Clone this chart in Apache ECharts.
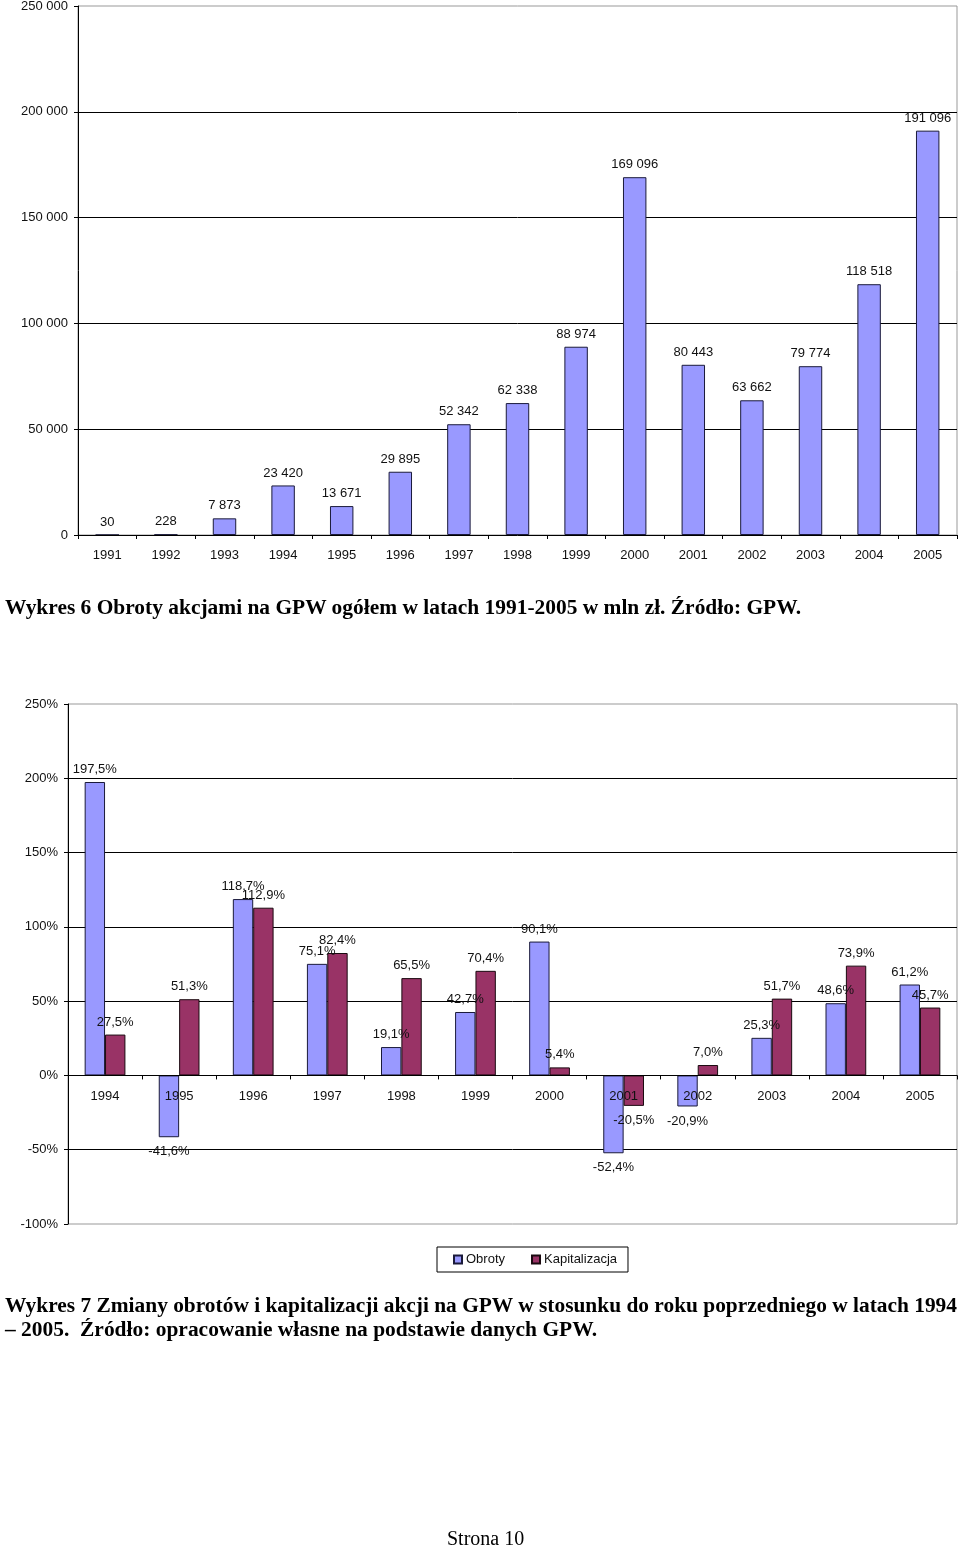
<!DOCTYPE html>
<html>
<head>
<meta charset="utf-8">
<script src="https://cdn.jsdelivr.net/npm/echarts@6/dist/echarts.min.js"></script>
<style>
  html, body { margin: 0; padding: 0; background: #fff; }
  #page { position: relative; width: 960px; height: 1547px; overflow: hidden; }
  #chart { position: absolute; left: 0; top: 0; width: 960px; height: 1547px; }
  .cap { position: absolute; font-family: "Liberation Serif", "Times New Roman", serif; font-weight: bold; font-size: 20px; color: #000; white-space: nowrap; transform-origin: 0 0; line-height: 1; }
  .foot { position: absolute; font-family: "Liberation Serif", "Times New Roman", serif; font-size: 20px; color: #000; white-space: nowrap; line-height: 1; }
</style>
</head>
<body>
<div id="page">
  <div id="chart"></div>
  <div class="cap" id="cap1" data-w="796" style="left:5px; top:597px;">Wykres 6 Obroty akcjami na GPW ogółem w latach 1991-2005 w mln zł. Źródło: GPW.</div>
  <div class="cap" id="cap2" data-w="952" style="left:5px; top:1295px;">Wykres 7 Zmiany obrotów i kapitalizacji akcji na GPW w stosunku do roku poprzedniego w latach 1994</div>
  <div class="cap" id="cap3" data-w="592" style="left:5px; top:1319px;">– 2005.&nbsp; Źródło: opracowanie własne na podstawie danych GPW.</div>
  <div class="foot" style="left:447px; top:1528px;">Strona 10</div>
</div>
<script>
// ---- Chart 1 data ----
const years1 = ['1991','1992','1993','1994','1995','1996','1997','1998','1999','2000','2001','2002','2003','2004','2005'];
const obrotyMln = [30, 228, 7873, 23420, 13671, 29895, 52342, 62338, 88974, 169096, 80443, 63662, 79774, 118518, 191096];

// ---- Chart 2 data ----
const years2 = ['1994','1995','1996','1997','1998','1999','2000','2001','2002','2003','2004','2005'];
const obrotyZmiana = [197.5, -41.6, 118.7, 75.1, 19.1, 42.7, 90.1, -52.4, -20.9, 25.3, 48.6, 61.2];
const kapitalizacjaZmiana = [27.5, 51.3, 112.9, 82.4, 65.5, 70.4, 5.4, -20.5, 7.0, 51.7, 73.9, 45.7];

const seriesNames = ['Obroty', 'Kapitalizacja'];

// axis ranges
const y1Min = 0, y1Max = 250000, y1Step = 50000;
const y2Min = -100, y2Max = 250, y2Step = 50;

// fit captions to width
document.querySelectorAll('.cap').forEach(function (el) {
  const w = el.getBoundingClientRect().width;
  const target = parseFloat(el.getAttribute('data-w'));
  el.style.transform = 'scaleX(' + (target / w) + ')';
});

function fmtThousands(v) {
  return String(v).replace(/\B(?=(\d{3})+(?!\d))/g, ' ');
}
function fmtPct(v) {
  return v.toFixed(1).replace('.', ',') + '%';
}

const FONT = 'Arial, "Liberation Sans", sans-serif';
const TXT = '#111';

function pctData(arr) {
  return arr.map(function (v) {
    return { value: v, label: { position: v < 0 ? 'bottom' : 'top', distance: v < 0 ? 8 : 6 } };
  });
}

const grid2H = 520;
// move the category axis of chart 2 up to the zero line
const zeroOffset2 = -grid2H * (0 - y2Min) / (y2Max - y2Min);

const chart = echarts.init(document.getElementById('chart'), null, { renderer: 'canvas' });
chart.setOption({
  backgroundColor: '#fff',
  animation: false,
  textStyle: { fontFamily: FONT },
  grid: [
    { left: 78, top: 6, width: 879, height: 529, show: true, borderColor: '#999', borderWidth: 1, backgroundColor: 'transparent', outerBoundsMode: 'none' },
    { left: 68, top: 704, width: 889, height: grid2H, show: true, borderColor: '#999', borderWidth: 1, backgroundColor: 'transparent', outerBoundsMode: 'none' }
  ],
  legend: {
    data: seriesNames,
    left: 437, top: 1247,
    padding: [6, 11, 6, 16],
    borderColor: '#000', borderWidth: 1,
    itemWidth: 8, itemHeight: 8, itemGap: 26,
    icon: 'rect',
    textStyle: { fontFamily: FONT, fontSize: 13, color: TXT, padding: [0, 0, 0, -1] }
  },
  xAxis: [
    {
      gridIndex: 0, type: 'category', data: years1, z: 5,
      axisLine: { lineStyle: { color: '#000', width: 1 } },
      axisTick: { show: true, length: 4, lineStyle: { color: '#000' } },
      axisLabel: { color: TXT, fontSize: 13, fontFamily: FONT, margin: 14 },
      splitLine: { show: false }
    },
    {
      gridIndex: 1, type: 'category', data: years2, position: 'bottom', z: 5,
      offset: zeroOffset2,
      axisLine: { onZero: false, lineStyle: { color: '#000', width: 1 } },
      axisTick: { show: true, length: 4, lineStyle: { color: '#000' } },
      axisLabel: { color: TXT, fontSize: 13, fontFamily: FONT, margin: 14 },
      splitLine: { show: false }
    }
  ],
  yAxis: [
    {
      gridIndex: 0, type: 'value', min: y1Min, max: y1Max, interval: y1Step,
      axisLine: { show: true, lineStyle: { color: '#000', width: 1 } },
      axisTick: { show: true, length: 4, lineStyle: { color: '#000' } },
      axisLabel: { color: TXT, fontSize: 13, fontFamily: FONT, margin: 10, formatter: fmtThousands },
      splitLine: { show: true, showMinLine: false, showMaxLine: false, lineStyle: { color: '#000', width: 1 } }
    },
    {
      gridIndex: 1, type: 'value', min: y2Min, max: y2Max, interval: y2Step,
      axisLine: { show: true, onZero: false, lineStyle: { color: '#000', width: 1 } },
      axisTick: { show: true, length: 4, lineStyle: { color: '#000' } },
      axisLabel: { color: TXT, fontSize: 13, fontFamily: FONT, margin: 10, formatter: function (v) { return v + '%'; } },
      splitLine: { show: true, showMinLine: false, showMaxLine: false, lineStyle: { color: '#000', width: 1 } }
    }
  ],
  series: [
    {
      name: 'Obroty mln', type: 'bar', xAxisIndex: 0, yAxisIndex: 0,
      data: obrotyMln, barWidth: '40%',
      itemStyle: { color: '#9999FF', borderColor: '#1a1a3a', borderWidth: 1 },
      label: { show: true, position: 'top', distance: 6, color: TXT, fontSize: 13, fontFamily: FONT,
        formatter: function (p) { return fmtThousands(p.value); } }
    },
    {
      name: seriesNames[0], type: 'bar', xAxisIndex: 1, yAxisIndex: 1,
      data: pctData(obrotyZmiana), barGap: '0%', barCategoryGap: '45%',
      itemStyle: { color: '#9999FF', borderColor: '#1a1a3a', borderWidth: 1 },
      label: { show: true, color: TXT, fontSize: 13, fontFamily: FONT,
        formatter: function (p) { return fmtPct(p.value); } }
    },
    {
      name: seriesNames[1], type: 'bar', xAxisIndex: 1, yAxisIndex: 1,
      data: pctData(kapitalizacjaZmiana), barGap: '0%', barCategoryGap: '45%',
      itemStyle: { color: '#993366', borderColor: '#1a0a10', borderWidth: 1 },
      label: { show: true, color: TXT, fontSize: 13, fontFamily: FONT,
        formatter: function (p) { return fmtPct(p.value); } }
    }
  ]
});
</script>
</body>
</html>
